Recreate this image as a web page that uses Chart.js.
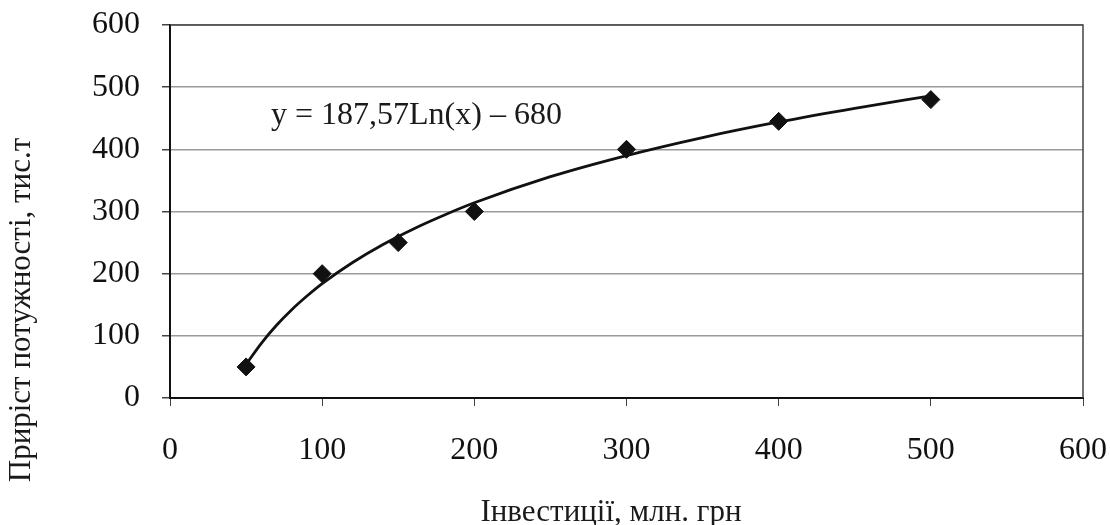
<!DOCTYPE html>
<html lang="uk">
<head>
    <meta charset="UTF-8">
    <title>Приріст потужності</title>
    <script src="https://cdn.jsdelivr.net/npm/chart.js"></script>
    <style>
        body { margin: 0; background: #fff; }
        #wrap { width: 1110px; height: 525px; }
    </style>
</head>
<body>
    <div id="wrap"><canvas id="myChart" width="1110" height="525"></canvas></div>
    <script>
        // дані з графіка
        const investX = [50, 100, 150, 200, 300, 400, 500]
        const growthY = [50, 200, 250, 300, 400, 445, 480]
        // лінія тренду
        const trendX = [50, 60, 70, 80, 90, 100, 120, 140, 160, 180, 200, 250, 300, 350, 400, 450, 500]
        const trendY = [54, 88, 117, 142, 164, 184, 218, 247, 272, 294, 314, 356, 390, 419, 444, 466, 486]
        const equation = "y = 187,57Ln(x) \u2013 680"
        const xTitle = "Інвестиції, млн. грн"
        const yTitle = "Приріст потужності, тис.т"

        const fontFam = "'Liberation Serif', 'Times New Roman', serif"

        let points = investX.map((x, i) => ({ x: x, y: growthY[i] }))
        let trend = trendX.map((x, i) => ({ x: x, y: trendY[i] }))

        // рамка, підписи осей і рівняння
        const extras = {
            id: 'extras',
            beforeDatasetsDraw(chart) {
                const c = chart.ctx
                const a = chart.chartArea
                c.save()
                c.strokeStyle = '#444'
                c.lineWidth = 1.5
                c.beginPath()
                c.moveTo(a.left, a.top)
                c.lineTo(a.right, a.top)
                c.lineTo(a.right, a.bottom)
                c.stroke()
                c.fillStyle = '#1a1a1a'
                c.font = "32px " + fontFam
                c.textBaseline = 'alphabetic'
                c.fillText(equation, 271, 124)
                // назва осі X
                c.font = "31px " + fontFam
                c.textAlign = 'center'
                c.fillText(xTitle, 611, 521)
                // назва осі Y
                c.translate(22, 310)
                c.rotate(-Math.PI / 2)
                c.font = "31px " + fontFam
                c.textBaseline = 'middle'
                c.fillText(yTitle, 0, 0)
                c.restore()
            }
        }

        const ctx = document.getElementById('myChart').getContext('2d')
        let myChart = new Chart(ctx, {
            type: 'scatter',
            data: {
                datasets: [{
                    label: 'trend',
                    data: trend,
                    showLine: true,
                    borderColor: '#111',
                    borderWidth: 2.8,
                    pointRadius: 0,
                    tension: 0.4,
                    cubicInterpolationMode: 'monotone',
                    order: 2
                }, {
                    label: 'data',
                    data: points,
                    pointStyle: 'rectRot',
                    pointRadius: 9,
                    backgroundColor: '#111',
                    borderColor: '#111',
                    order: 1
                }]
            },
            options: {
                responsive: false,
                animation: false,
                layout: { padding: { top: 25, right: 27, left: 0, bottom: 0 } },
                plugins: {
                    legend: { display: false },
                    tooltip: { enabled: false }
                },
                scales: {
                    x: {
                        type: 'linear',
                        min: 0, max: 600,
                        ticks: { stepSize: 100, color: '#111', font: { family: fontFam, size: 32 }, padding: 25 },
                        grid: { drawOnChartArea: false, drawTicks: true, tickLength: 8, tickColor: '#444' },
                        border: { color: '#111', width: 2 },
                        afterFit(scale) {
                            scale.height = 127
                            scale.paddingLeft = 0
                            scale.paddingRight = 0
                        }
                    },
                    y: {
                        min: 0, max: 600,
                        ticks: { stepSize: 100, color: '#111', font: { family: fontFam, size: 32 }, padding: 22 },
                        grid: { color: '#9a9a9a', lineWidth: 1.5, tickLength: 8, tickColor: '#444' },
                        border: { color: '#111', width: 2 },
                        afterFit(scale) {
                            scale.width = 170
                            scale.paddingTop = 0
                            scale.paddingBottom = 0
                        }
                    }
                }
            },
            plugins: [extras]
        })
    </script>
</body>
</html>
